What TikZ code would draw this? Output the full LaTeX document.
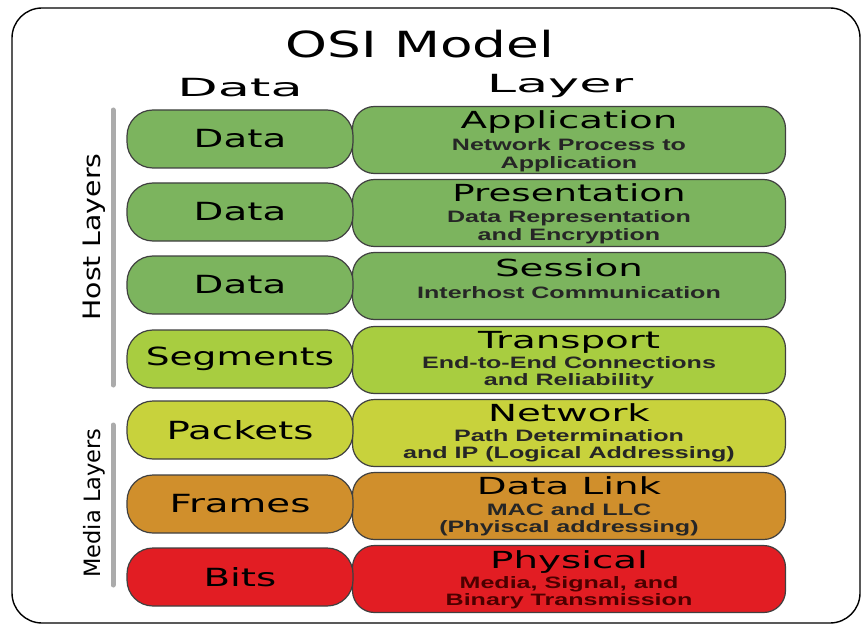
\documentclass[tikz,border=0pt]{standalone}
\usepackage{fontspec}
\setmainfont{DejaVu Sans}
\newfontfamily\subfont{Liberation Sans}
\usetikzlibrary{positioning}

\definecolor{hostgreen}{RGB}{124,180,94}
\definecolor{transgreen}{RGB}{168,205,64}
\definecolor{netyellow}{RGB}{200,210,60}
\definecolor{linkorange}{RGB}{208,143,44}
\definecolor{physred}{RGB}{226,29,35}

% stretched text, as in the slide
\newcommand{\wide}[2]{\scalebox{#1}[1]{#2}}
\newcommand{\desc}[1]{\scalebox{1.52}[1]{\begin{tabular}[t]{@{}c@{}}#1\end{tabular}}}

\tikzset{
  unitbox/.style={draw=black!75, line width=1.2pt, rounded corners=26pt,
    minimum width=226pt, minimum height=58pt, inner sep=0pt,
    font=\fontsize{25}{30}\selectfont},
  layerbox/.style={draw=black!75, line width=1.2pt, rounded corners=22pt,
    minimum width=433pt, minimum height=67pt, inner sep=0pt},
  ltitle/.style={anchor=base, inner sep=0pt, font=\fontsize{23.5}{28}\selectfont},
  ldesc/.style={anchor=base, inner sep=0pt,
    font=\subfont\bfseries\fontsize{16.5}{17}\selectfont, text=black!85},
  sidebar/.style={line width=5pt, line cap=round, draw=black!33},
  sidelabel/.style={anchor=base, rotate=90, inner sep=0pt}
}

\begin{document}
\begin{tikzpicture}[x=1pt, y=-1pt]
        \useasboundingbox (0,0) rectangle (861,628);
        \fill[white] (0,0) rectangle (861,628);
        \draw[line width=1.4pt, rounded corners=30pt] (12,8) rectangle (860,623);

        % Headings
        \node[anchor=base, inner sep=0pt, font=\fontsize{36}{40}\selectfont] (title) at (420,58) {\wide{1.48}{OSI Model}};
        \node[anchor=base, inner sep=0pt, font=\fontsize{25}{30}\selectfont] (hdata) at (240,97) {\wide{2.1}{Data}};
        \node[anchor=base, inner sep=0pt, font=\fontsize{25}{30}\selectfont] (hlayer) at (560,93) {\wide{2.1}{Layer}};

        % Layers
        \node[layerbox, fill=hostgreen] (l7) at (569,140) {};
        \node[layerbox, fill=hostgreen] (l6) at (569,213) {};
        \node[layerbox, fill=hostgreen] (l5) at (569,286) {};
        \node[layerbox, fill=transgreen] (l4) at (569,360) {};
        \node[layerbox, fill=netyellow] (l3) at (569,433) {};
        \node[layerbox, fill=linkorange] (l2) at (569,506) {};
        \node[layerbox, fill=physred] (l1) at (569,579) {};

        % Data units
        \node[unitbox, fill=hostgreen] (u7) at (240,139) {\wide{1.55}{Data}};
        \node[unitbox, fill=hostgreen] (u6) at (240,212) {\wide{1.55}{Data}};
        \node[unitbox, fill=hostgreen] (u5) at (240,285) {\wide{1.55}{Data}};
        \node[unitbox, fill=transgreen] (u4) at (240,359) {\wide{1.5}{Segments}};
        \node[unitbox, fill=netyellow] (u3) at (240,430) {\wide{1.55}{Packets}};
        \node[unitbox, fill=linkorange] (u2) at (240,504) {\wide{1.55}{Frames}};
        \node[unitbox, fill=physred] (u1) at (240,577) {\wide{1.55}{Bits}};

        % Layer names
        \node[ltitle] (t7) at (569,129) {\wide{1.65}{Application}};
        \node[ltitle] (t6) at (569,202) {\wide{1.58}{Presentation}};
        \node[ltitle] (t5) at (569,276) {\wide{1.65}{Session}};
        \node[ltitle] (t4) at (569,348) {\wide{1.65}{Transport}};
        \node[ltitle] (t3) at (569,421) {\wide{1.65}{Network}};
        \node[ltitle] (t2) at (569,494) {\wide{1.65}{Data Link}};
        \node[ltitle] (t1) at (569,568) {\wide{1.65}{Physical}};

        % Descriptions
        \node[ldesc] (d7) at (569,151) {\desc{Network Process to\\Application}};
        \node[ldesc] (d6) at (569,223) {\desc{Data Representation\\and Encryption}};
        \node[ldesc] (d5) at (569,298) {\desc{Interhost Communication}};
        \node[ldesc] (d4) at (569,368) {\desc{End-to-End Connections\\and Reliability}};
        \node[ldesc] (d3) at (569,441) {\desc{Path Determination\\and IP (Logical Addressing)}};
        \node[ldesc] (d2) at (569,515) {\desc{MAC and LLC\\(Phyiscal addressing)}};
        \node[ldesc, text=black!70!red] (d1) at (569,588) {\desc{Media, Signal, and\\Binary Transmission}};

        % Groups
        \coordinate (hosttop) at (113,110);
        \coordinate (hostbot) at (113,385);
        \coordinate (mediatop) at (113,425);
        \coordinate (mediabot) at (113,585);
        \draw[sidebar] (hosttop) -- (hostbot);
        \draw[sidebar] (mediatop) -- (mediabot);
        \node[sidelabel, font=\fontsize{24}{28}\selectfont] (host) at (100,237) {\wide{1.18}{Host Layers}};
        \node[sidelabel, font=\fontsize{22.5}{26}\selectfont] (media) at (100,503) {\wide{1.0}{Media Layers}};
      \end{tikzpicture}
\end{document}
